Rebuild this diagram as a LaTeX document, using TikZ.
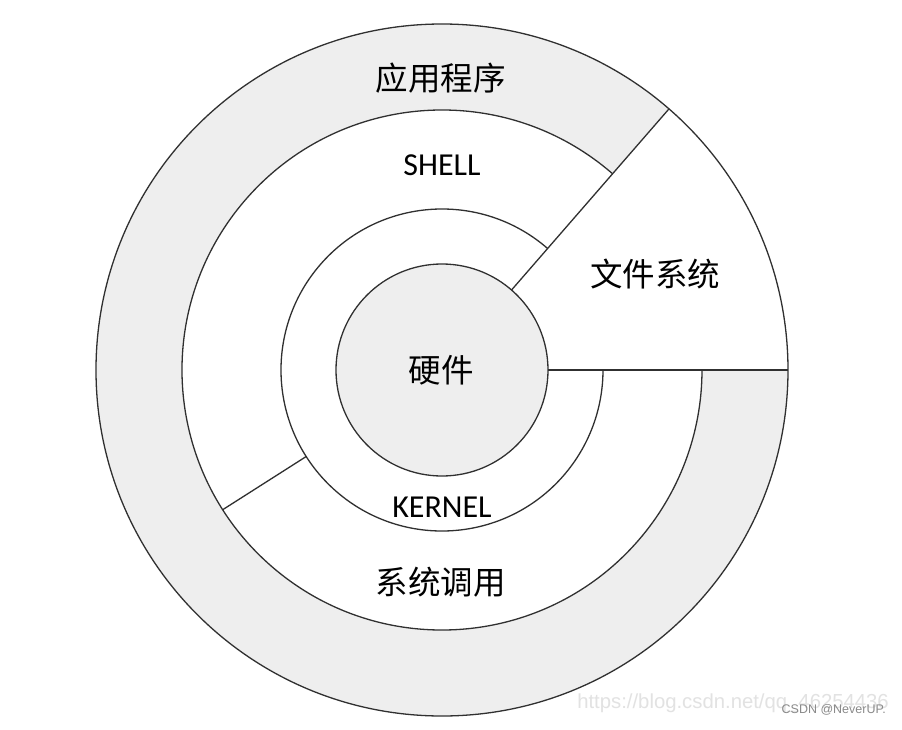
\documentclass[tikz,border=0pt]{standalone}
\usepackage{fontspec}
\newfontfamily\cjk{Noto Sans CJK SC}
\newfontfamily\latin{Carlito}
\newfontfamily\wm{Liberation Sans}
\definecolor{ringgray}{HTML}{EEEEEE}
\definecolor{edge}{HTML}{303030}
\definecolor{wmlight}{HTML}{E2E2E2}
\definecolor{wmdark}{HTML}{8A8A8A}
\begin{document}
\begin{tikzpicture}[x=1pt,y=1pt,
  edgeline/.style={draw=edge,line width=1.3pt},
  cjklabel/.style={font=\cjk\fontsize{32.5}{36}\selectfont,inner sep=0pt},
  latlabel/.style={font=\latin\fontsize{32}{36}\selectfont,inner sep=0pt}]
\useasboundingbox (-442,-359) rectangle (460,370);
\fill[white] (-442,-359) rectangle (460,370);
% radii
\def\rO{346}\def\rS{260}\def\rK{161}\def\rH{106}
% fills
\fill[ringgray] (0,0) circle (\rO);
\fill[white] (0,0) circle (\rS);
\fill[white] (0,0) -- (0:\rO) arc[start angle=0,end angle=49,radius=\rO] -- cycle;
\fill[ringgray] (0,0) circle (\rH);
% outlines
\draw[edgeline] (0,0) circle (\rO);
\draw[edgeline] (49:\rS) arc[start angle=49,end angle=360,radius=\rS];
\draw[edgeline] (49:\rK) arc[start angle=49,end angle=360,radius=\rK];
\draw[edgeline] (0,0) circle (\rH);
\coordinate (fsa) at (49:\rH);
\coordinate (fsb) at (49:\rO);
\coordinate (fsc) at (0:\rH);
\coordinate (fsd) at (0:\rO);
\coordinate (sca) at (212.5:\rK);
\coordinate (scb) at (212.5:\rS);
\draw[edgeline] (fsa) -- (fsb);
\draw[edgeline] (fsc) -- (fsd);
\draw[edgeline] (sca) -- (scb);
% labels
\node[cjklabel] (app) at (-1,292) {应用程序};
\node[latlabel] (shell) at (0,205) {SHELL};
\node[cjklabel] (fs) at (213,96) {文件系统};
\node[cjklabel] (hw) at (-1,0) {硬件};
\node[latlabel] (kernel) at (0,-137) {KERNEL};
\node[cjklabel] (sc) at (-1,-212) {系统调用};
% watermark
\node[font=\wm\fontsize{20.3}{23}\selectfont,text=wmlight,inner sep=0pt,anchor=east] (wm1) at (447,-333) {https://blog.csdn.net/qq\_46254436};
\node[font=\wm\fontsize{12.5}{14}\selectfont,text=wmdark,inner sep=0pt,anchor=east] (wm2) at (444,-340) {CSDN @NeverUP.};
\end{tikzpicture}
\end{document}
